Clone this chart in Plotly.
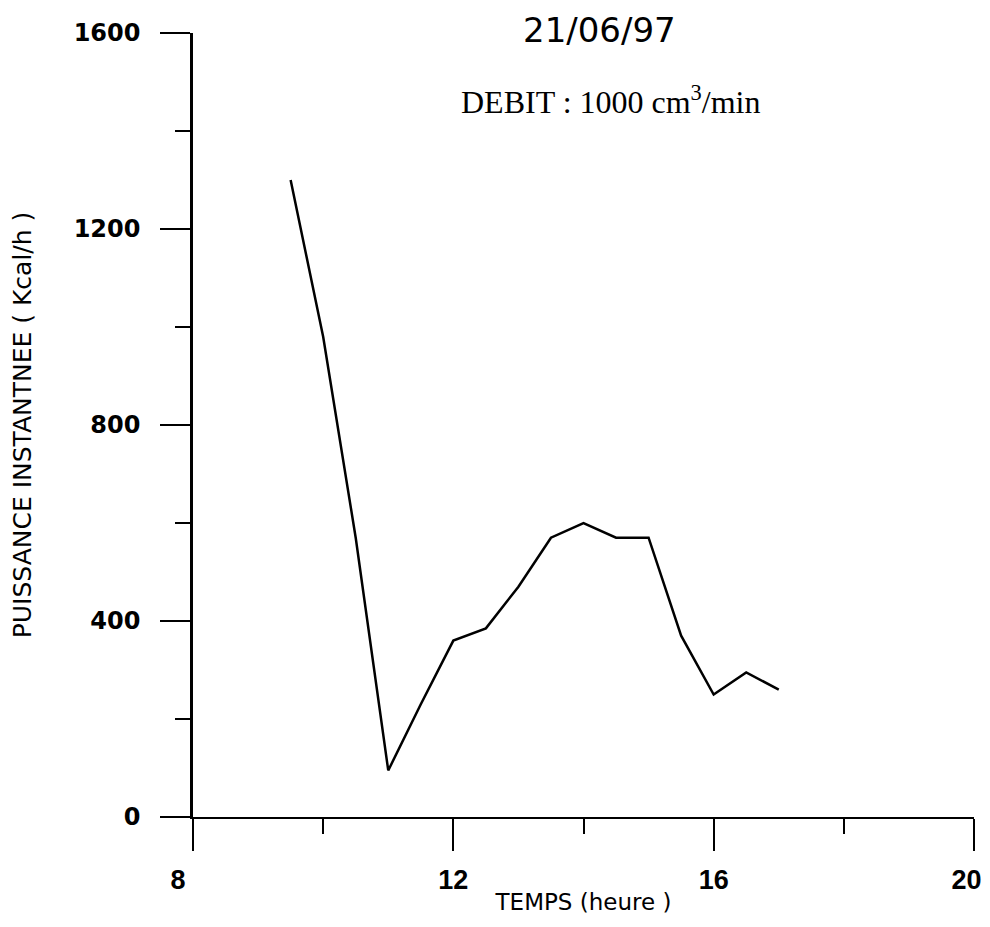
import plotly.graph_objects as go

# heure de la mesure / puissance instantanee (Kcal/h)
temps = [9.5, 10, 10.5, 11, 11.5, 12, 12.5, 13, 13.5, 14, 14.5, 15, 15.5, 16, 16.5, 17]
puissance = [1300, 980, 570, 95, 230, 360, 385, 470, 570, 600, 570, 570, 370, 250, 295, 260]

x_major = [8, 12, 16, 20]
# end labels sit a little left of their ticks in the original, padded with nbsp
x_labels = ["8\u00a0\u00a0\u00a0\u00a0", "12", "16", "20\u00a0\u00a0"]
x_minor = [10, 14, 18]
y_major = [0, 400, 800, 1200, 1600]
y_minor = [200, 600, 1000, 1400]

titre = "21/06/97"
debit = "DEBIT : 1000 cm<sup>3</sup>/min"

fig = go.Figure()
fig.add_trace(go.Scatter(
    x=temps, y=puissance, mode="lines",
    line={"color": "black", "width": 2.5},
    showlegend=False,
))

fig.add_annotation(
    text=titre, xref="paper", yref="paper", x=0.521, y=1.004,
    xanchor="center", yanchor="middle", showarrow=False,
    font={"family": "DejaVu Sans", "size": 34, "color": "black"},
)
fig.add_annotation(
    text=debit, xref="paper", yref="paper", x=0.534, y=0.9145,
    xanchor="center", yanchor="middle", showarrow=False,
    font={"family": "Liberation Serif", "size": 32, "color": "black"},
)

fig.update_xaxes(
    range=[8, 20], tickvals=x_major, ticktext=x_labels,
    ticks="outside", ticklen=32, tickwidth=1.5, tickcolor="black",
    ticklabelstandoff=6, ticklabeloverflow="allow", automargin=False,
    minor={"tickvals": x_minor, "ticks": "outside", "ticklen": 15, "tickwidth": 1.5, "tickcolor": "black"},
    showline=True, linecolor="black", linewidth=1.5,
    showgrid=False, zeroline=False,
    tickfont={"family": "Liberation Sans", "size": 27, "color": "black", "weight": "bold"},
    title={"text": "TEMPS (heure )", "standoff": 0,
           "font": {"family": "DejaVu Sans", "size": 23, "color": "black"}},
)
fig.update_yaxes(
    range=[0, 1600], tickvals=y_major, ticktext=[str(v) for v in y_major],
    ticks="outside", ticklen=30, tickwidth=1.5, tickcolor="black",
    ticklabelstandoff=15, automargin=False,
    minor={"tickvals": y_minor, "ticks": "outside", "ticklen": 15, "tickwidth": 1.5, "tickcolor": "black"},
    showline=True, linecolor="black", linewidth=2.5,
    showgrid=False, zeroline=False,
    tickfont={"family": "DejaVu Sans", "size": 24, "color": "black", "weight": "bold"},
    title={"text": "PUISSANCE INSTANTNEE ( Kcal/h )", "standoff": 40,
           "font": {"family": "DejaVu Sans", "size": 25, "color": "black"}},
)

# the page body adds 8px around the figure, so the figure is sized to fit
fig.update_layout(
    width=982, height=911,
    margin={"l": 185, "r": 16, "t": 25, "b": 102},
    plot_bgcolor="white", paper_bgcolor="white",
)

fig.write_html("out.html")
